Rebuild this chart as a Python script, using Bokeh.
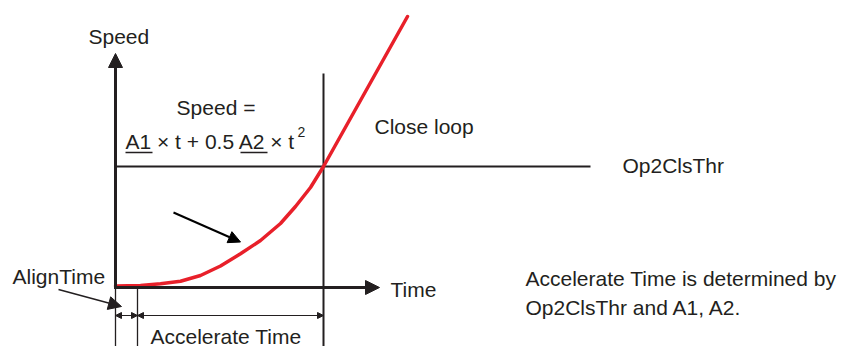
from bokeh.plotting import figure
from bokeh.models import Arrow, NormalHead, Range1d, ColumnDataSource
from bokeh.core.properties import value
from bokeh.embed import file_html
from bokeh.resources import INLINE

# ---- data (diagram units: time t, speed v; origin at the axes crossing) ----
curve_t = [0, 25, 45, 65, 85, 105, 125, 145, 165, 180, 195, 208, 292]
curve_v = [1.5, 2, 3.7, 6.3, 12, 21.5, 33.7, 47, 64, 81, 100, 121, 271]

op2clsthr = 121          # threshold speed (Op2ClsThr)
align_end = 22           # end of AlignTime
accel_end = 208          # end of Accelerate Time (curve reaches threshold)
threshold_end = 475
speed_axis_top = 234
time_axis_end = 264
cross_line_top = 214
bottom = -62
dim_v = -28

label_text = ["Speed", "Speed =", "A1 \u00d7 t + 0.5 A2 \u00d7 t", "2", "Close loop",
              "Op2ClsThr", "AlignTime", "Time", "Accelerate Time",
              "Accelerate Time is determined by", "Op2ClsThr and A1, A2."]
label_t = [-27, 100.5, 10, 182, 259, 507, -103, 275, 35, 410, 410]
label_v = [251, 180.3, 146, 156, 161.3, 122, 11.5, -1.7, -48.5, 9, -19.7]
label_size = ["21px", "21px", "21px", "14px", "21px", "21px", "21px", "21px", "21px", "21px", "21px"]
label_align = ["left", "center", "left", "left", "left", "left", "left", "left", "left", "left", "left"]

underline_t0 = [10, 125]
underline_t1 = [37, 152]
underline_v = 135

INK = "#231f20"
RED = "#e8202a"

p = figure(width=845, height=346, output_backend="svg", toolbar_location=None,
           x_axis_type=None, y_axis_type=None,
           x_range=Range1d(-115, 730), y_range=Range1d(-59, 287),
           background_fill_color="white", border_fill_color="white")
p.outline_line_color = None
p.min_border = 0
p.min_border_left = p.min_border_right = p.min_border_top = p.min_border_bottom = 0

# threshold line and crossing vertical
p.segment(x0=[0], y0=[op2clsthr], x1=[threshold_end], y1=[op2clsthr], line_color=INK, line_width=2)
p.segment(x0=[accel_end], y0=[cross_line_top], x1=[accel_end], y1=[bottom], line_color=INK, line_width=2)

# dimension helper verticals
p.segment(x0=[0, align_end], y0=[0, 0], x1=[0, align_end], y1=[bottom, bottom], line_color=INK, line_width=1.3)

# dimension arrows
for a, b in [(0, align_end), (align_end, accel_end)]:
    p.add_layout(Arrow(x_start=a, y_start=dim_v, x_end=b, y_end=dim_v, line_color=INK, line_width=1,
                       start=NormalHead(size=6, fill_color=INK, line_color=INK, line_width=1),
                       end=NormalHead(size=6, fill_color=INK, line_color=INK, line_width=1)))

# red curve
p.line(curve_t, curve_v, line_color=RED, line_width=3.5, line_join="round", line_cap="round")

# axes with arrow heads
p.add_layout(Arrow(x_start=0, y_start=-1.5, x_end=0, y_end=speed_axis_top, line_color=INK, line_width=3,
                   end=NormalHead(size=14, fill_color=INK, line_color=INK, line_width=1)))
p.add_layout(Arrow(x_start=-1.5, y_start=0, x_end=time_axis_end, y_end=0, line_color=INK, line_width=3,
                   end=NormalHead(size=14, fill_color=INK, line_color=INK, line_width=1)))

# pointer arrows
p.add_layout(Arrow(x_start=58, y_start=75, x_end=125, y_end=45.5, line_color="black", line_width=2,
                   end=NormalHead(size=12, fill_color="black", line_color="black", line_width=1)))
p.add_layout(Arrow(x_start=-57, y_start=-2, x_end=6, y_end=-19, line_color=INK, line_width=1.5,
                   end=NormalHead(size=13, fill_color=INK, line_color=INK, line_width=1)))

# underlines under A1 and A2
p.segment(x0=underline_t0, y0=[underline_v] * 2, x1=underline_t1, y1=[underline_v] * 2,
          line_color=INK, line_width=1.4)

src = ColumnDataSource(dict(x=label_t, y=label_v, text=label_text, size=label_size, align=label_align))
p.text(x="x", y="y", text="text", source=src, text_font=value("Liberation Sans"),
       text_font_size="size", text_align="align", text_baseline="middle", text_color=INK)

open("out.html", "w").write(file_html(p, INLINE))
